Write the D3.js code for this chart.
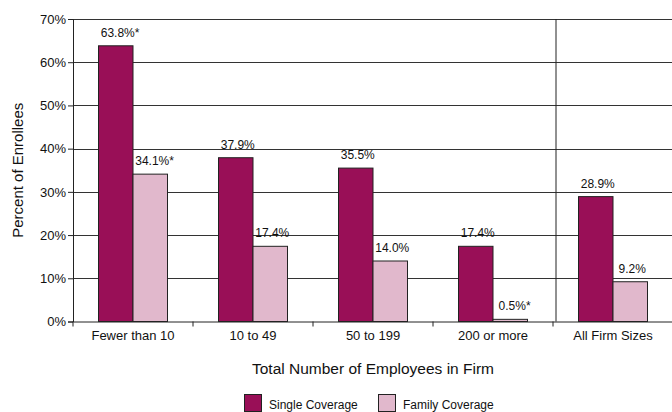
<!DOCTYPE html>
<html>
<head>
<meta charset="utf-8">
<script src="https://cdn.jsdelivr.net/npm/d3@7"></script>
<style>
  html, body { margin: 0; padding: 0; background: #fff; }
  svg { display: block; font-family: "Liberation Sans", Arial, sans-serif; }
</style>
</head>
<body>
<svg id="chart" width="672" height="412"></svg>
<script>
// Firm-size groups along the x axis
const categories = ["Fewer than 10", "10 to 49", "50 to 199", "200 or more", "All Firm Sizes"];
// Percent of enrollees by coverage type
const singleValues = [63.8, 37.9, 35.5, 17.4, 28.9];
const familyValues = [34.1, 17.4, 14.0, 0.5, 9.2];
// Significance markers appended to value labels
const singleMarks = ["*", "", "", "", ""];
const familyMarks = ["*", "", "", "*", ""];
const seriesNames = ["Single Coverage", "Family Coverage"];
const yTicks = [0, 10, 20, 30, 40, 50, 60, 70];

const colors = { single: "#990f57", family: "#e1b8cc" };

const svg = d3.select("#chart");
const plotLeft = 73, plotRight = 673, plotTop = 19, plotBottom = 321.5;

const x = d3.scaleBand().domain(categories).range([plotLeft, plotRight]);
const y = d3.scaleLinear().domain([0, 70]).range([plotBottom, plotTop]);
const barW = 34.5;

// Horizontal gridlines
svg.append("g")
  .selectAll("line")
  .data(yTicks.filter(d => d > 0))
  .join("line")
  .attr("x1", plotLeft).attr("x2", plotRight)
  .attr("y1", d => Math.round(y(d)) + 0.5).attr("y2", d => Math.round(y(d)) + 0.5)
  .attr("stroke", "#333").attr("stroke-width", 1);

// Separator before the overall group
const sepX = x("All Firm Sizes") + 3;
svg.append("line")
  .attr("x1", sepX).attr("x2", sepX)
  .attr("y1", plotTop).attr("y2", plotBottom)
  .attr("stroke", "#222").attr("stroke-width", 1);

// Y axis
const yAxis = d3.axisLeft(y).tickValues(yTicks).tickFormat(d => d + "%").tickSize(5).tickPadding(2);
const gy = svg.append("g").attr("transform", `translate(${plotLeft},0)`).call(yAxis);
gy.selectAll("text").attr("font-size", 13).attr("fill", "#111").attr("font-family", "Liberation Sans, Arial, sans-serif");
gy.select(".domain").attr("stroke", "#222");
gy.selectAll(".tick line").attr("stroke", "#222");

// Bars
const pairs = categories.map((c, i) => ({ c, i }));
const bars = svg.append("g");
bars.selectAll("rect.single")
  .data(pairs).join("rect")
  .attr("class", "single")
  .attr("x", d => x(d.c) + x.bandwidth() / 2 - barW)
  .attr("y", d => y(singleValues[d.i]))
  .attr("width", barW)
  .attr("height", d => y(0) - y(singleValues[d.i]))
  .attr("fill", colors.single).attr("stroke", "#222").attr("stroke-width", 1);
bars.selectAll("rect.family")
  .data(pairs).join("rect")
  .attr("class", "family")
  .attr("x", d => x(d.c) + x.bandwidth() / 2)
  .attr("y", d => y(familyValues[d.i]))
  .attr("width", barW)
  .attr("height", d => y(0) - y(familyValues[d.i]))
  .attr("fill", colors.family).attr("stroke", "#222").attr("stroke-width", 1);

// X axis
const xAxis = d3.axisBottom(x).tickSize(0).tickPadding(9);
const gx = svg.append("g").attr("transform", `translate(0,${plotBottom})`).call(xAxis);
gx.selectAll("text").attr("font-size", 13).attr("fill", "#111").attr("font-family", "Liberation Sans, Arial, sans-serif");
gx.select(".domain").attr("stroke", "#222");
gx.selectAll("line.sep")
  .data(d3.range(categories.length + 1)).join("line")
  .attr("class", "sep")
  .attr("x1", i => plotLeft + i * x.bandwidth()).attr("x2", i => plotLeft + i * x.bandwidth())
  .attr("y1", 0).attr("y2", 5)
  .attr("stroke", "#222");

// Value labels: number centered over the bar, marker trailing
function addLabel(cx, v, mark) {
  const t = svg.append("text")
    .attr("font-size", 12).attr("fill", "#111")
    .attr("y", y(v) - 9);
  const num = t.append("tspan").text(v.toFixed(1) + "%");
  const w = num.node().getComputedTextLength();
  t.attr("x", cx + 2 - w / 2);
  if (mark) t.append("tspan").text(mark);
}
pairs.forEach(d => {
  const cx = x(d.c) + x.bandwidth() / 2;
  addLabel(cx - barW / 2, singleValues[d.i], singleMarks[d.i]);
  addLabel(cx + barW / 2, familyValues[d.i], familyMarks[d.i]);
});

// Axis titles
svg.append("text")
  .attr("x", (plotLeft + plotRight) / 2).attr("y", 374)
  .attr("text-anchor", "middle").attr("font-size", 15.5).attr("fill", "#111")
  .text("Total Number of Employees in Firm");
svg.append("text")
  .attr("transform", `translate(23,${(plotTop + plotBottom) / 2}) rotate(-90)`)
  .attr("text-anchor", "middle").attr("font-size", 15).attr("fill", "#111")
  .text("Percent of Enrollees");

// Legend
const legend = svg.append("g");
const legendItems = [
  { name: seriesNames[0], color: colors.single, x: 244 },
  { name: seriesNames[1], color: colors.family, x: 378 }
];
legendItems.forEach(it => {
  legend.append("rect")
    .attr("x", it.x + 0.5).attr("y", 394.5).attr("width", 17).attr("height", 17)
    .attr("fill", it.color).attr("stroke", "#222");
  legend.append("text")
    .attr("x", it.x + 25).attr("y", 409)
    .attr("font-size", 12).attr("fill", "#111")
    .text(it.name);
});
</script>
</body>
</html>
